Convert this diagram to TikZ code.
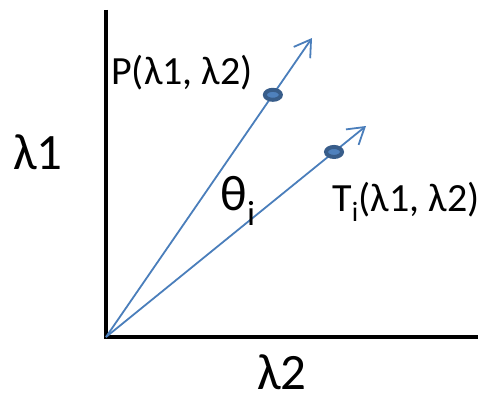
\documentclass[tikz,border=0pt]{standalone}
\usepackage{fontspec}
\setmainfont{Carlito}
\usetikzlibrary{positioning,arrows.meta,calc,shapes.geometric}
\definecolor{vecblue}{RGB}{74,126,187}
\definecolor{dotdark}{RGB}{56,93,138}
\definecolor{dotlight}{RGB}{79,129,189}
\tikzset{
  axisline/.style={black,line width=3.3pt},
  vecline/.style={vecblue,line width=1.8pt,-{Straight Barb[length=16pt,width=20pt,line width=1.8pt]}},
  dotmark/.style={ellipse,fill=dotlight,draw=dotdark,line width=4pt,
    minimum width=16pt,minimum height=10pt,inner sep=0pt},
  biglabel/.style={font=\fontsize{51}{54}\selectfont,inner sep=0pt},
  ptlabel/.style={font=\fontsize{40}{44}\selectfont,inner sep=0pt}
}

\begin{document}
\begin{tikzpicture}[x=1pt,y=-1pt]
        \useasboundingbox (0,0) rectangle (481,396);
        \coordinate (origin) at (106,337);
        \coordinate (ytop) at (106,10);
        \coordinate (xend) at (478,337);
        \coordinate (tipP) at (312,38);
        \coordinate (tipT) at (366,126);
        \draw[axisline] (ytop) -- (origin.center) -- (xend);
        \draw[vecline] (origin) -- (tipP);
        \draw[vecline] (origin) -- (tipT);
        \node[dotmark] (dotP) at ($(origin)!0.81!(tipP)$) {};
        \node[dotmark] (dotT) at ($(origin)!0.877!(tipT)$) {};
        \node[ptlabel] (labP) at (182,73) {P(λ1, λ2)};
        \node[ptlabel] (labT) at (406,202) {T\textsubscript{i}(λ1, λ2)};
        \node[font=\fontsize{50}{54}\selectfont,inner sep=0pt] (theta) at (238,201) {θ\textsubscript{i}};
        \node[biglabel] (lamy) at (38,152) {λ1};
        \node[biglabel] (lamx) at (282,372) {λ2};
      \end{tikzpicture}
\end{document}
